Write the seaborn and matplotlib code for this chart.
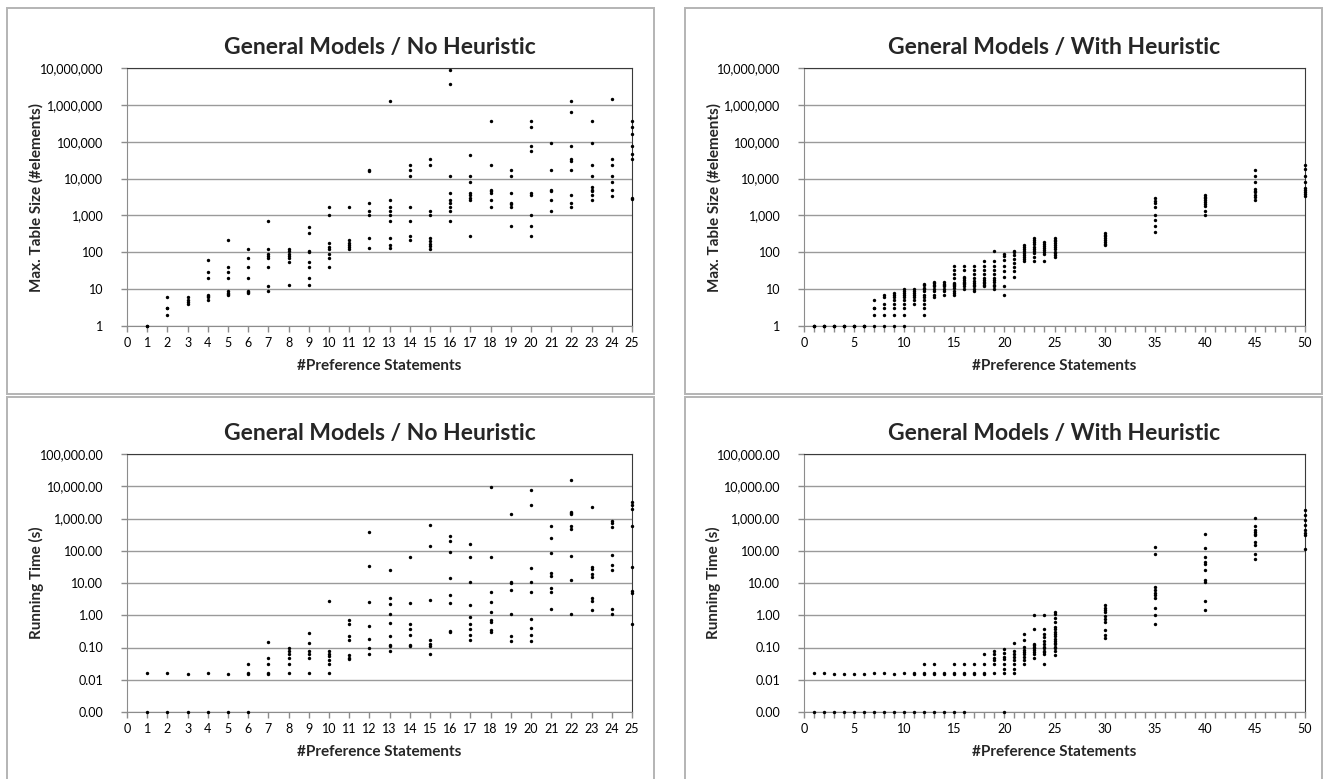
import matplotlib
matplotlib.use("Agg")
import matplotlib.pyplot as plt
import pandas as pd
import seaborn as sns
from matplotlib.patches import Rectangle
from matplotlib.ticker import FixedLocator, FuncFormatter, MultipleLocator, NullLocator

# --- data read off the reference (n statements -> measured values) ---
# zero running times cannot sit on a log axis; they are drawn on the
# bottom "0.00" line, i.e. at 0.001 s
ZERO_TIME = 0.001

size_no_heur = {
    1: [1, 1],
    2: [6, 3, 3, 2],
    3: [6, 5, 4.5, 4],
    4: [60, 30, 20, 7, 6.5, 6, 5],
    5: [210, 40, 30, 20, 9, 8, 7.5, 7],
    6: [120, 70, 40, 20, 9, 8.5, 8],
    7: [720, 120, 90, 80, 70, 40, 12, 9],
    8: [120, 110, 90, 80, 70, 55, 13],
    9: [500, 340, 110, 100, 55, 40, 20, 13],
    10: [1700, 1000, 180, 140, 120, 90, 70, 40],
    11: [1700, 210, 180, 160, 140, 125],
    12: [17000, 16000, 2200, 1300, 1000, 240, 130],
    13: [1250000, 2700, 1700, 1300, 1000, 700, 240, 160, 130],
    14: [24000, 17000, 12000, 1700, 700, 270, 210],
    15: [33000, 24000, 1300, 1000, 240, 200, 170, 150, 120],
    16: [9000000, 3600000, 12000, 4000, 2700, 2200, 1700, 1300, 700],
    17: [44000, 12000, 8000, 4000, 3500, 3000, 2700, 280],
    18: [370000, 24000, 5000, 4500, 4000, 2700, 1700],
    19: [17000, 12000, 4000, 2200, 2000, 1700, 520],
    20: [360000, 250000, 75000, 55000, 4000, 3500, 1000, 520, 280],
    21: [95000, 17000, 5000, 4700, 2700, 1300],
    22: [1250000, 660000, 75000, 34000, 30000, 17000, 3500, 2200, 1700],
    23: [360000, 95000, 24000, 12000, 6000, 5000, 4500, 3500, 2700],
    24: [1450000, 33000, 24000, 12000, 8000, 5000, 3400],
    25: [360000, 250000, 160000, 75000, 45000, 33000, 3000, 2800],
}

size_heur = {
    1: [1, 1, 1], 2: [1, 1, 1], 3: [1, 1, 1], 4: [1, 1, 1], 5: [1, 1, 1], 6: [1, 1, 1],
    7: [5, 3, 3, 2, 1],
    8: [7, 6, 4, 3, 2, 1],
    9: [8, 7, 6, 5, 4, 3, 2, 1],
    10: [10, 9, 8, 7, 6, 5, 4, 3, 2, 1],
    11: [10, 9, 8, 7, 6, 5, 4],
    12: [14, 13, 11, 10, 9, 7, 6, 5, 4, 3, 2],
    13: [16, 15, 13, 12, 10, 9, 7, 6],
    14: [16, 14, 13, 12, 10, 9, 7],
    15: [43, 33, 26, 20, 15, 14, 13, 12, 11, 9, 8, 7],
    16: [43, 33, 22, 20, 18, 16, 15, 14, 12, 10],
    17: [43, 33, 26, 20, 17, 15, 13, 12, 10, 9],
    18: [58, 43, 33, 26, 20, 18, 16, 15, 13, 12],
    19: [110, 58, 43, 33, 26, 20, 18, 16, 13, 12, 10],
    20: [90, 80, 60, 43, 31, 21, 12, 7],
    21: [110, 100, 85, 65, 52, 40, 31, 21],
    22: [160, 140, 125, 110, 97, 86, 73, 64, 57],
    23: [250, 220, 190, 170, 140, 125, 110, 93, 76, 58],
    24: [190, 170, 150, 130, 115, 100, 90, 58],
    25: [250, 220, 200, 175, 155, 135, 120, 105, 93, 83, 73],
    30: [340, 300, 270, 240, 210, 190, 170, 155],
    35: [2900, 2500, 2200, 1700, 1000, 750, 520, 350],
    40: [3500, 3200, 2900, 2600, 2300, 2100, 1800, 1350, 1000],
    45: [17000, 12000, 8000, 5200, 4700, 4200, 3600, 3100, 2700],
    50: [24000, 18000, 12000, 8000, 5400, 4800, 4300, 3800, 3300],
}

time_no_heur = {
    1: [0.016, ZERO_TIME],
    2: [0.016, ZERO_TIME],
    3: [0.015, ZERO_TIME],
    4: [0.016, ZERO_TIME],
    5: [0.015, ZERO_TIME],
    6: [0.031, 0.016, 0.015, ZERO_TIME],
    7: [0.15, 0.047, 0.031, 0.016, 0.015],
    8: [0.094, 0.08, 0.062, 0.047, 0.031, 0.016],
    9: [0.28, 0.14, 0.078, 0.062, 0.047, 0.016],
    10: [2.8, 0.078, 0.063, 0.055, 0.04, 0.031, 0.016],
    11: [0.72, 0.53, 0.22, 0.17, 0.06, 0.047, 0.045],
    12: [380, 33, 2.6, 0.45, 0.19, 0.094, 0.062],
    13: [25, 3.4, 2.2, 1.1, 0.57, 0.23, 0.12, 0.11, 0.078],
    14: [66, 2.4, 0.55, 0.38, 0.25, 0.12, 0.11],
    15: [650, 140, 2.9, 0.17, 0.125, 0.11, 0.062],
    16: [280, 200, 92, 14, 4.2, 2.4, 0.32, 0.3],
    17: [165, 62, 10.5, 2.1, 0.86, 0.53, 0.37, 0.24, 0.17],
    18: [9700, 66, 5.2, 2.5, 1.3, 0.7, 0.62, 0.34, 0.3],
    19: [1400, 11, 10, 6.2, 1.1, 0.23, 0.16],
    20: [7600, 2600, 29, 11, 5.4, 0.75, 0.39, 0.25, 0.16],
    21: [600, 250, 87, 21, 17, 6.8, 5.4, 1.6],
    22: [15500, 1600, 1450, 1350, 580, 470, 70, 12, 1.1],
    23: [2200, 31, 27, 19, 15, 3.5, 2.8, 1.5],
    24: [850, 750, 560, 72, 37, 25, 1.6, 1.1],
    25: [3300, 2700, 2000, 580, 31, 5.5, 4.9, 0.53],
}

time_heur = {
    1: [0.016, ZERO_TIME], 2: [0.016, ZERO_TIME], 3: [0.015, ZERO_TIME],
    4: [0.015, ZERO_TIME], 5: [0.015, ZERO_TIME], 6: [0.015, ZERO_TIME],
    7: [0.016, ZERO_TIME], 8: [0.016, ZERO_TIME], 9: [0.015, ZERO_TIME],
    10: [0.016, ZERO_TIME],
    11: [0.016, 0.015, ZERO_TIME],
    12: [0.031, 0.016, 0.015, ZERO_TIME],
    13: [0.031, 0.016, 0.015, ZERO_TIME],
    14: [0.016, 0.015, ZERO_TIME],
    15: [0.031, 0.016, 0.015, ZERO_TIME],
    16: [0.031, 0.016, 0.015, ZERO_TIME],
    17: [0.031, 0.016, 0.015],
    18: [0.062, 0.031, 0.016, 0.015],
    19: [0.078, 0.062, 0.047, 0.041, 0.031, 0.016],
    20: [0.092, 0.066, 0.052, 0.043, 0.031, 0.021, 0.016, ZERO_TIME],
    21: [0.14, 0.078, 0.062, 0.052, 0.041, 0.031, 0.021, 0.016],
    22: [0.27, 0.17, 0.106, 0.083, 0.072, 0.062, 0.052, 0.041, 0.031],
    23: [1.0, 0.37, 0.13, 0.117, 0.105, 0.094, 0.083, 0.072, 0.062, 0.047],
    24: [1.05, 0.37, 0.27, 0.21, 0.16, 0.13, 0.105, 0.094, 0.08, 0.07, 0.062, 0.031],
    25: [1.3, 1.1, 0.82, 0.62, 0.42, 0.37, 0.3, 0.26, 0.22, 0.19, 0.16, 0.14,
         0.125, 0.105, 0.094, 0.08, 0.06],
    30: [2.1, 1.7, 1.45, 1.25, 0.96, 0.76, 0.6, 0.34, 0.25, 0.2],
    35: [130, 80, 7.5, 6.2, 5, 4.2, 3.5, 1.7, 1.0, 0.53],
    40: [330, 120, 62, 45, 38, 25, 12, 11, 2.7, 1.5],
    45: [1050, 570, 450, 390, 340, 300, 190, 155, 80, 56],
    50: [1800, 1300, 900, 650, 450, 350, 300, 110],
}

size_ticks = [10 ** k for k in range(0, 8)]
time_ticks = [10.0 ** k for k in range(-3, 6)]

TITLE_NO = "General Models / No Heuristic"
TITLE_WITH = "General Models / With Heuristic"
XLABEL = "#Preference Statements"
YLABEL_SIZE = "Max. Table Size (#elements)"
YLABEL_TIME = "Running Time (s)"

sns.set_style("white")
plt.rcParams["font.family"] = ["Lato", "DejaVu Sans"]

W, H = 1326, 779
fig = plt.figure(figsize=(W / 100, H / 100), dpi=100)


def to_frame(points):
    rows = [(n, v) for n, vals in points.items() for v in vals]
    return pd.DataFrame(rows, columns=["statements", "value"])


def px_axes(x0, y0, x1, y1):
    return fig.add_axes([x0 / W, 1 - y1 / H, (x1 - x0) / W, (y1 - y0) / H])


def frame(x0, y0, x1, y1):
    fig.add_artist(Rectangle((x0 / W, 1 - y1 / H), (x1 - x0) / W, (y1 - y0) / H,
                             transform=fig.transFigure, fill=False,
                             edgecolor="#b4b4b4", lw=1.4))


def panel(ax, points, title, ylabel, xmax, yticks, fmt):
    sns.scatterplot(data=to_frame(points), x="statements", y="value", ax=ax,
                    color="black", s=6, linewidth=0, clip_on=False, zorder=3)
    ax.set_yscale("log")
    ax.set_xlim(0, xmax)
    ax.set_ylim(yticks[0], yticks[-1])
    ax.yaxis.set_major_locator(FixedLocator(yticks))
    ax.yaxis.set_minor_locator(NullLocator())
    ax.yaxis.set_major_formatter(FuncFormatter(fmt))
    if xmax == 25:
        ax.xaxis.set_major_locator(MultipleLocator(1))
    else:
        ax.xaxis.set_major_locator(MultipleLocator(5))
        ax.xaxis.set_minor_locator(MultipleLocator(1))
    ax.grid(axis="y", color="#9a9a9a", lw=1)
    ax.grid(axis="x", visible=False)
    ax.set_axisbelow(True)
    for side in ("left", "bottom"):
        ax.spines[side].set_color("#8c8c8c")
    for side in ("top", "right"):
        ax.spines[side].set_color("#3a3a3a")
    ax.tick_params(which="both", direction="out", length=4, width=1,
                   color="#8c8c8c", labelsize=9, labelcolor="black")
    ax.tick_params(axis="x", which="both", bottom=True, pad=4)
    ax.tick_params(axis="y", left=True, pad=13)
    ax.set_title(title, fontsize=16.5, fontweight="bold", pad=10)
    ax.set_xlabel(XLABEL, fontsize=11, fontweight="bold", labelpad=7)
    ax.set_ylabel(ylabel, fontsize=11, fontweight="bold")
    ax.yaxis.set_label_coords(-0.165, 0.5)


def fmt_count(v, _):
    return f"{v:,.0f}"


def fmt_time(v, _):
    return f"{v:,.2f}"


frame(7, 8, 654, 394)
frame(685, 8, 1322, 394)
frame(7, 397, 654, 785)
frame(685, 397, 1322, 785)

panel(px_axes(127, 68, 632, 326), size_no_heur, TITLE_NO, YLABEL_SIZE, 25, size_ticks, fmt_count)
panel(px_axes(804, 68, 1305, 326), size_heur, TITLE_WITH, YLABEL_SIZE, 50, size_ticks, fmt_count)
panel(px_axes(127, 454, 632, 712), time_no_heur, TITLE_NO, YLABEL_TIME, 25, time_ticks, fmt_time)
panel(px_axes(804, 454, 1305, 712), time_heur, TITLE_WITH, YLABEL_TIME, 50, time_ticks, fmt_time)

fig.savefig("out.png", dpi=100)
